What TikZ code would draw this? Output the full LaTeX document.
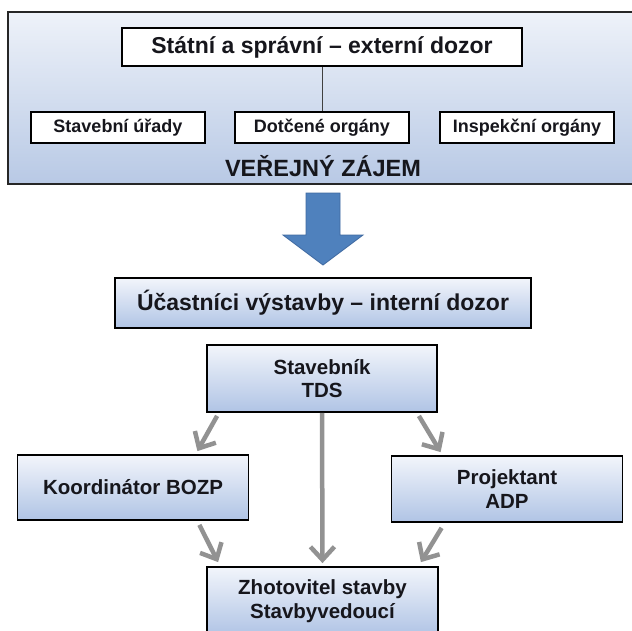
\documentclass[tikz,border=0pt]{standalone}
\usepackage{fontspec}
\setmainfont{Liberation Sans}
\usepackage{xcolor}
\usetikzlibrary{arrows.meta,calc,positioning}

\definecolor{panelTop}{RGB}{238,242,249}
\definecolor{panelBot}{RGB}{184,201,229}
\definecolor{boxTop}{RGB}{242,245,251}
\definecolor{boxBot}{RGB}{176,196,229}
\definecolor{bigBlue}{RGB}{79,129,189}
\definecolor{bigBlueLine}{RGB}{62,104,160}
\definecolor{flowGray}{RGB}{146,146,146}
\definecolor{inkDark}{RGB}{22,22,28}

\begin{document}
\begin{tikzpicture}[x=1pt,y=-1pt,
    panel/.style={draw=black!85, line width=1.2pt, top color=panelTop, bottom color=panelBot,
        minimum width=632pt, minimum height=172pt, inner sep=0pt},
    whitebox/.style={draw=black, line width=1.2pt, fill=white, text=inkDark, inner sep=0pt,
        font=\bfseries\fontsize{18}{20}\selectfont, minimum width=174pt, minimum height=31pt},
    bluebox/.style={draw=black, line width=1.8pt, top color=boxTop, bottom color=boxBot,
        text=inkDark, inner sep=0pt, align=center,
        font=\bfseries\fontsize{20.5}{23.5}\selectfont, minimum width=231pt},
    flow/.style={draw=flowGray, line width=4.5pt, -{Straight Barb[length=13pt,width=24pt]}},
    bigarrow/.style={fill=bigBlue, draw=bigBlueLine, line width=0.8pt, line join=miter}]

\useasboundingbox (0,0) rectangle (632,630);

% verejny zajem
\node[panel] (panel) at (324,98) {};
\node[whitebox, minimum width=400pt, minimum height=38pt,
      font=\bfseries\fontsize{23}{25}\selectfont] (statni) at (322,47) {Státní a správní – externí dozor};
\node[whitebox] (urady) at (118,127.5) {Stavební úřady};
\node[whitebox] (dotcene) at (322,127.5) {Dotčené orgány};
\node[whitebox] (inspekce) at (527,127.5) {Inspekční orgány};
\node[text=inkDark, font=\bfseries\fontsize{23.5}{25}\selectfont] (zajem) at (323,166) {VEŘEJNÝ ZÁJEM};
\draw[line width=1pt, black!75] (statni.south) -- (dotcene.north);

\draw[bigarrow] (306,193) -- (340,193) -- (340,235) -- (363,235) -- (323,265) -- (283,235) -- (306,235) -- cycle;

% ucastnici vystavby
\node[bluebox, minimum width=416pt, minimum height=50pt,
      font=\bfseries\fontsize{23}{25}\selectfont] (ucastnici) at (323,303) {Účastníci výstavby – interní dozor};
\node[bluebox, minimum width=230pt, minimum height=67pt] (stavebnik) at (322,378.5) {Stavebník\\TDS};
\node[bluebox, minimum height=65pt] (koord) at (133,487.5) {Koordinátor BOZP};
\node[bluebox, minimum height=66pt] (projekt) at (507,489) {Projektant\\ADP};
\node[bluebox, minimum height=68pt] (zhot) at (322.5,601) {Zhotovitel stavby\\Stavbyvedoucí};

\draw[flow] ($(stavebnik.south west)+(11,3)$) -- ($(koord.north east)+(-52,-3)$);
\draw[flow] ($(stavebnik.south east)+(-19,3)$) -- ($(projekt.north west)+(50,-3)$);
\draw[flow, shorten >=3pt] (stavebnik.south) -- (zhot.north);
\draw[flow] ($(koord.south east)+(-50,4)$) -- ($(zhot.north west)+(12,-4)$);
\draw[flow] ($(projekt.south west)+(51,5)$) -- ($(zhot.north east)+(-18,-4)$);
\end{tikzpicture}
\end{document}
